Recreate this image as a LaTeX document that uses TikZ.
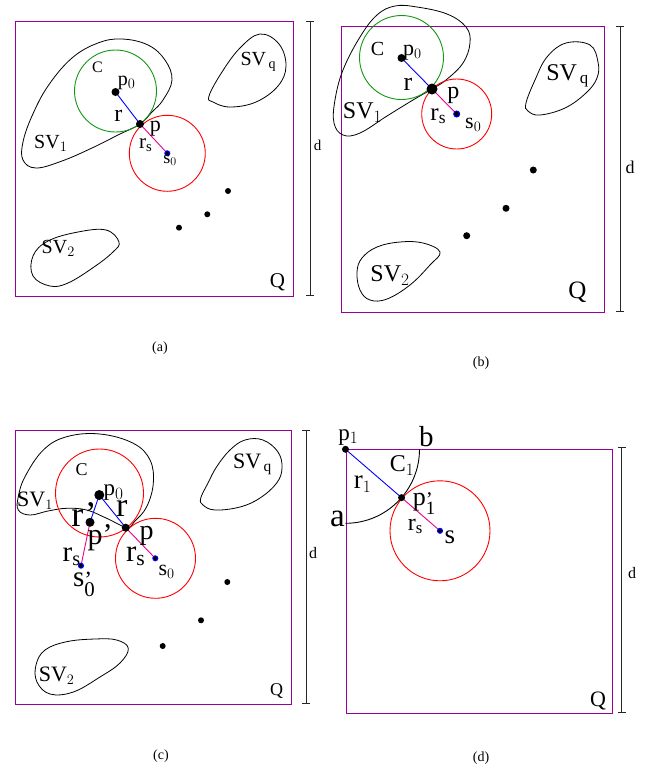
\documentclass[tikz,border=0pt]{standalone}
\usepackage{amsmath}
\usepackage{fontspec}
\setmainfont{Liberation Serif}
\usetikzlibrary{arrows.meta,calc}
\definecolor{boxpurple}{RGB}{153,0,153}
\definecolor{cgreen}{RGB}{20,150,20}
\newcommand\pq[2]{#1\makebox[0pt][l]{\raisebox{-0.02em}{\scalebox{0.8}{’}}}\raisebox{-0.33em}{\scalebox{0.72}{#2}}}
\tikzset{
  frame/.style={draw=boxpurple, line width=1pt},
  blob/.style={draw=black, line width=0.8pt, smooth cycle, tension=0.65},
  dimbar/.style={draw=black!85, line width=0.9pt, {Bar[width=8pt]}-{Bar[width=8pt]}},
  lbl/.style={inner sep=0pt, anchor=base, font=\fontsize{#1}{#1}\selectfont},
  greencirc/.style={draw=cgreen, line width=0.9pt},
  redcirc/.style={draw=red, line width=0.9pt},
  bl/.style={draw=blue, line width=0.9pt},
  mg/.style={draw=magenta, line width=0.9pt},
  sdot/.style={fill=black, draw=blue, line width=1pt},
}
\begin{document}
\begin{tikzpicture}[x=1pt,y=-1pt]
\useasboundingbox (0,0) rectangle (651,772);
% ================= (a) =================
\draw[frame] (15,21) rectangle (293,296);
\coordinate (da1) at (310,21); \coordinate (da2) at (310,296);
\draw[dimbar] (da1) -- (da2);
\coordinate (ap0) at (115.5,92); \coordinate (ap) at (140,124); \coordinate (as0) at (167.3,153.3);
\draw[blob] plot coordinates {(140,124) (118,135) (92,148) (62,161) (36,168) (23,160) (23,142) (32,116) (48,86) (72,58) (98,43) (122,39) (148,45) (165,60) (172,80) (163,100) (152,112)};
\draw[blob] plot coordinates {(209,96) (222,72) (240,48) (260,34) (279,44) (286,66) (278,86) (256,102) (230,107) (213,102)};
\draw[blob] plot coordinates {(119,242) (106,230) (78,232) (48,241) (33,256) (33,276) (50,286) (68,283) (94,267) (113,252)};
\draw[greencirc] (115.5,91) circle[radius=41pt];
\draw[redcirc] (as0) circle[radius=38pt];
\draw[bl] (ap0) -- (ap);
\draw[mg] (ap) -- (as0);
\fill (ap0) circle[radius=4pt];
\fill (ap) circle[radius=4pt];
\filldraw[sdot] (as0) circle[radius=2.5pt];
\foreach \p in {(228,191),(207.3,214.3),(179,227.7)} \fill \p circle[radius=3pt];
\node[lbl=16] (aC) at (97.5,72.3) {C};
\node[lbl=20] (ap0l) at (126.7,85) {p$_0$};
\node[lbl=24] (arl) at (118.3,121.7) {r};
\node[lbl=22] (apl) at (155.3,131.7) {p};
\node[lbl=21] (arsl) at (145.8,148.3) {r$_\mathrm{s}$};
\node[lbl=18] (as0l) at (170,163.3) {s$_0$};
\node[lbl=20] (asv1) at (50.8,148.3) {SV$_1$};
\node[lbl=20] (asvq) at (258.3,65) {SV$_{\,\mathrm{q}}$};
\node[lbl=20] (asv2) at (58.3,253.3) {SV$_2$};
\node[lbl=21] (aQ) at (277.5,287.3) {Q};
\node[lbl=15] (ad) at (317.5,150) {d};
\node[lbl=14] (capa) at (160,351) {(a)};
% ================= (b) =================
\draw[frame] (341,26) rectangle (604,312);
\coordinate (db1) at (620,26); \coordinate (db2) at (620,312);
\draw[dimbar] (db1) -- (db2);
\coordinate (bp0) at (401.5,58); \coordinate (bp) at (432,89); \coordinate (bs0) at (456.7,114);
\draw[blob] plot coordinates {(432,89) (413,100) (387,116) (360,133) (343,135) (334,123) (335,100) (343,70) (360,37) (377,15) (395,6) (417,7) (447,14) (466,27) (470,43) (463,63) (446,80)};
\draw[blob] plot coordinates {(526,103) (535,80) (547,57) (566,43) (590,45) (598,62) (597,78) (586,93) (565,108) (540,115) (528,111)};
\draw[blob] plot coordinates {(440,252) (423,243) (400,242) (377,247) (362,258) (357,272) (360,290) (370,300) (387,299) (410,285) (430,265)};
\draw[greencirc] (401.5,57.5) circle[radius=42pt];
\draw[redcirc] (bs0) circle[radius=35pt];
\draw[bl] (bp0) -- (bp);
\draw[mg] (bp) -- (bs0);
\fill (bp0) circle[radius=4pt];
\fill (bp) circle[radius=5.5pt];
\filldraw[sdot] (bs0) circle[radius=3pt];
\foreach \p in {(533.3,170),(506,208.3),(466.7,235.7)} \fill \p circle[radius=3.5pt];
\node[lbl=20] (bC) at (377.5,55) {C};
\node[lbl=22] (bp0l) at (412.5,55) {p$_0$};
\node[lbl=26] (brl) at (408,90) {r};
\node[lbl=24] (bpl) at (453.3,98.3) {p};
\node[lbl=25] (brsl) at (438.3,120) {r$_\mathrm{s}$};
\node[lbl=22] (bs0l) at (473.3,128.3) {s$_0$};
\node[lbl=24] (bsv1) at (362.5,118.3) {SV$_1$};
\node[lbl=24] (bsvq) at (567.5,80) {SV$_{\,\mathrm{q}}$};
\node[lbl=24] (bsv2) at (390,281.7) {SV$_2$};
\node[lbl=25] (bQ) at (577.5,298.3) {Q};
\node[lbl=18] (bd) at (630,173.3) {d};
\node[lbl=14] (capb) at (481,366) {(b)};
% ================= (c) =================
\draw[frame] (15,430) rectangle (291,704);
\coordinate (dc1) at (306,430); \coordinate (dc2) at (306,704);
\draw[dimbar] (dc1) -- (dc2);
\coordinate (cp0) at (99.3,495); \coordinate (cp) at (125.7,527.7); \coordinate (cs0) at (155.3,558.3);
\coordinate (cpp) at (90,522.3); \coordinate (cs0p) at (81,565.7);
\draw[blob] plot coordinates {(126.7,527.3) (106.7,518.3) (86.7,510) (66.7,508.3) (48,511) (30,515) (18.3,510) (18.3,496.7) (25,476.7) (43.3,450) (66.7,436.7) (100,434) (133.3,443.3) (150,460) (153.3,483.3) (146.7,506.7) (135,521)};
\draw[blob] plot coordinates {(200.7,498.3) (208,483) (216.7,466.7) (230,450) (245,440) (263,440) (278,452) (282,468) (276.7,483) (260,498) (240,507) (215,510) (203,505)};
\draw[blob] plot coordinates {(128.3,648.3) (116.7,640) (95,639) (66.7,641.7) (45,650) (36,665) (37,682) (50,694) (73.3,692) (100,677) (120,663)};
\draw[redcirc] (99.5,493) circle[radius=44pt];
\draw[redcirc] (155.5,558.3) circle[radius=40pt];
\draw[bl] (cp0) -- (cp);
\draw[bl] (cp0) -- (cpp);
\draw[mg] (cp) -- (cs0);
\draw[mg] (cpp) -- (cs0p);
\fill (cp0) circle[radius=5pt];
\fill (cp) circle[radius=4pt];
\fill (cpp) circle[radius=4.5pt];
\filldraw[sdot] (cs0) circle[radius=2.5pt];
\filldraw[sdot] (cs0p) circle[radius=2.5pt];
\foreach \p in {(227.3,582),(201,620.3),(162.7,646)} \fill \p circle[radius=3pt];
\node[lbl=18] (cC) at (81.7,475) {C};
\node[lbl=23] (cp0l) at (113.5,495.9) {p$_0$};
\node[lbl=36] (crpl) at (84,526.7) {r’};
\node[lbl=34] (crl) at (121.7,516.7) {r};
\node[lbl=30] (cppl) at (100,544.6) {p’};
\node[lbl=28] (cpl) at (146.7,539) {p};
\node[lbl=29] (crsl1) at (71.7,561.7) {r$_\mathrm{s}$};
\node[lbl=31] (crsl2) at (135.8,561.7) {r$_\mathrm{s}$};
\node[lbl=29] (cs0pl) at (84,586.7) {\pq{s}{0}};
\node[lbl=22] (cs0l) at (166.7,575) {s$_0$};
\node[lbl=22] (csv1) at (35,506.7) {SV$_1$};
\node[lbl=22] (csvq) at (252.5,468.3) {SV$_{\,\mathrm{q}}$};
\node[lbl=22] (csv2) at (56.7,681.7) {SV$_2$};
\node[lbl=18] (cQ) at (276.7,695) {Q};
\node[lbl=16] (cd) at (313,558.3) {d};
\node[lbl=14] (capc) at (161,759) {(c)};
% ================= (d) =================
\draw[frame] (346,449) rectangle (612.7,713.3);
\coordinate (dd1) at (621.7,447) ; \coordinate (dd2) at (621.7,713.3);
\draw[dimbar] (dd1) -- (dd2);
\coordinate (dp1) at (345.5,449.3); \coordinate (ds) at (440,530.8);
\coordinate (dpp) at ($(dp1)!74pt!(ds)$);
\coordinate (da) at (345.5,523.3);
\draw[line width=0.9pt] (da) arc[start angle=-90, end angle=0, radius=74pt];
\draw[redcirc] (ds) circle[radius=50pt];
\draw[bl] (dp1) -- (dpp);
\draw[mg] (dpp) -- (ds);
\fill (dp1) circle[radius=3.5pt];
\fill (dpp) circle[radius=3.5pt];
\filldraw[sdot] (ds) circle[radius=2.5pt];
\node[lbl=23] (dp1l) at (348.3,440) {p$_1$};
\node[lbl=29] (dbl) at (426.3,446.7) {b};
\node[lbl=24] (dC1) at (402,471.7) {C$_1$};
\node[lbl=27] (dr1) at (362.5,488.3) {r$_1$};
\node[lbl=33] (dal) at (337.5,526) {a};
\node[lbl=26] (dppl) at (424,505.7) {\pq{p}{1}};
\node[lbl=24] (drs) at (415.3,530) {r$_\mathrm{s}$};
\node[lbl=27] (dsl) at (450,543.3) {s};
\node[lbl=22] (dQ) at (598,706.7) {Q};
\node[lbl=16] (dd) at (632,578.3) {d};
\node[lbl=14] (capd) at (481,761) {(d)};
\end{tikzpicture}
\end{document}
